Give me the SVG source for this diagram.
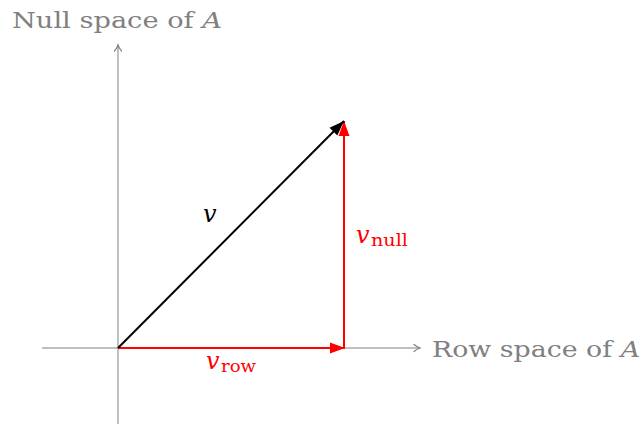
<svg xmlns="http://www.w3.org/2000/svg" width="644" height="426" viewBox="0 0 644 426">
<style>
text{font-family:"DejaVu Serif","Liberation Serif",serif}
.gray{fill:#808080}
.red{fill:#ff0000}
.it{font-style:italic}
</style>
<defs>
<marker id="ax" markerWidth="10" markerHeight="10" refX="7" refY="5" orient="auto" markerUnits="userSpaceOnUse">
<path d="M1,1.5 Q4,4 7,5 Q4,6 1,8.5" fill="none" stroke="#808080" stroke-width="1.2" stroke-linecap="round"/>
</marker>
<marker id="ar" markerWidth="16" markerHeight="12" refX="15" refY="6" orient="auto" markerUnits="userSpaceOnUse">
<path d="M0,0.5 L15,6 L0,11.5 Z" fill="#ff0000"/>
</marker>
<marker id="ab" markerWidth="16" markerHeight="12" refX="15" refY="6" orient="auto" markerUnits="userSpaceOnUse">
<path d="M0,0.5 L15,6 L0,11.5 Z" fill="#000"/>
</marker>
</defs>
<g id="axes" fill="none" stroke="#808080" stroke-width="1">
<line x1="42" y1="348" x2="420" y2="348" marker-end="url(#ax)"/>
<line x1="118" y1="424" x2="118" y2="45" marker-end="url(#ax)"/>
</g>
<g id="connectors" fill="none" stroke-width="2">
<line x1="118" y1="348" x2="345" y2="348" stroke="#ff0000" marker-end="url(#ar)"/>
<line x1="344" y1="348" x2="344" y2="121" stroke="#ff0000" marker-end="url(#ar)"/>
<line x1="118" y1="348" x2="344" y2="121" stroke="#000" marker-end="url(#ab)"/>
</g>
<g id="labels">
<text x="12" y="28" font-size="22" class="gray" textLength="210" lengthAdjust="spacingAndGlyphs">Null space of <tspan class="it">A</tspan></text>
<text x="432" y="357" font-size="22" class="gray" textLength="208" lengthAdjust="spacingAndGlyphs">Row space of <tspan class="it">A</tspan></text>
<text x="203" y="222" font-size="24" class="it">v</text>
<text x="356" y="243" font-size="24" class="red"><tspan class="it">v</tspan><tspan font-size="17" dy="3" x="371" textLength="37" lengthAdjust="spacingAndGlyphs">null</tspan></text>
<text x="206" y="369" font-size="24" class="red"><tspan class="it">v</tspan><tspan font-size="17" dy="3" x="221" textLength="35" lengthAdjust="spacingAndGlyphs">row</tspan></text>
</g>
</svg>
